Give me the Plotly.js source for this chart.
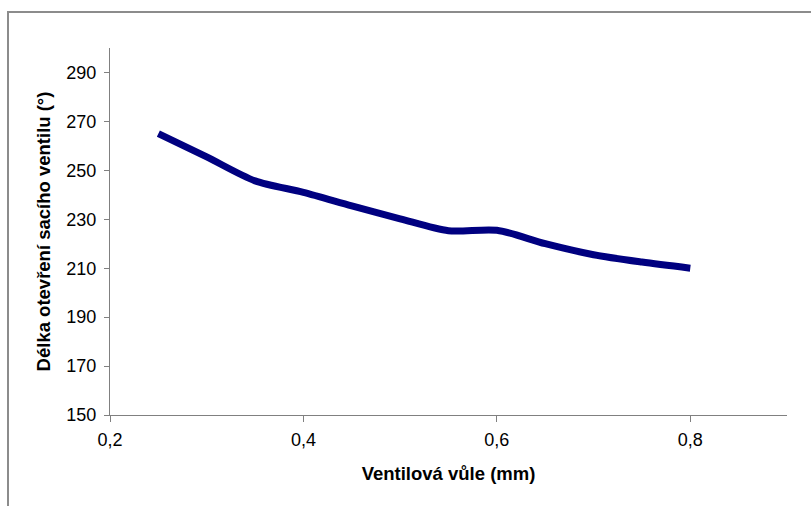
<!DOCTYPE html>
<html>
<head>
<meta charset="utf-8">
<script src="https://cdn.plot.ly/plotly-3.0.1.min.js"></script>
<style>
  html, body { margin: 0; padding: 0; background: #fff; }
  #wrap { position: relative; width: 811px; height: 506px; overflow: hidden; }
  #chart { position: absolute; left: 0; top: 0; width: 811px; height: 506px; }
  #frame { position: absolute; left: 7px; top: 11px; width: 820px; height: 520px;
           border-left: 2px solid #8c8c8c; border-top: 2px solid #8c8c8c; pointer-events: none; }
</style>
</head>
<body>
<div id="wrap">
  <div id="chart"></div>
  <div id="frame"></div>
</div>
<script>
// Data
const clearance = [0.25, 0.30, 0.35, 0.40, 0.45, 0.50, 0.55, 0.60, 0.65, 0.70, 0.75, 0.80];
const openingDuration = [265, 255.5, 245.7, 241, 235.5, 230.2, 225.3, 225.5, 220, 215.5, 212.5, 210];

const xTickVals = [0.2, 0.4, 0.6, 0.8];
const xTickText = ["0,2", "0,4", "0,6", "0,8"];
const yTickVals = [150, 170, 190, 210, 230, 250, 270, 290];

const xTitle = "Ventilová vůle (mm)";
const yTitle = "Délka otevření sacího ventilu (°)";

const trace = {
  x: clearance,
  y: openingDuration,
  type: "scatter",
  mode: "lines",
  line: { color: "#000080", width: 7, shape: "spline", smoothing: 0.8 },
  hoverinfo: "skip"
};

const font = { family: "Liberation Sans, Arial, sans-serif", color: "#000" };

const layout = {
  width: 811,
  height: 506,
  margin: { l: 110, r: 24, t: 48, b: 91 },
  paper_bgcolor: "#ffffff",
  plot_bgcolor: "#ffffff",
  showlegend: false,
  font: font,
  xaxis: {
    range: [0.2, 0.9],
    tickvals: xTickVals,
    ticktext: xTickText,
    ticks: "outside",
    ticklen: 6,
    tickcolor: "#808080",
    ticklabelstandoff: 2,
    showline: true,
    linecolor: "#808080",
    linewidth: 1,
    showgrid: false,
    zeroline: false,
    tickfont: { family: font.family, size: 18, color: "#000" },
    title: { text: xTitle, font: { family: font.family, size: 18.5, color: "#000", weight: "bold" }, standoff: 18 }
  },
  yaxis: {
    range: [150, 300],
    tickvals: yTickVals,
    ticks: "outside",
    ticklen: 5,
    tickcolor: "#808080",
    ticklabelstandoff: 4,
    showline: true,
    linecolor: "#808080",
    linewidth: 1,
    showgrid: false,
    zeroline: false,
    tickfont: { family: font.family, size: 18, color: "#000" },
    title: { text: yTitle, font: { family: font.family, size: 18.5, color: "#000", weight: "bold" }, standoff: 10 }
  }
};

Plotly.newPlot("chart", [trace], layout, { staticPlot: true, displayModeBar: false });
</script>
</body>
</html>
